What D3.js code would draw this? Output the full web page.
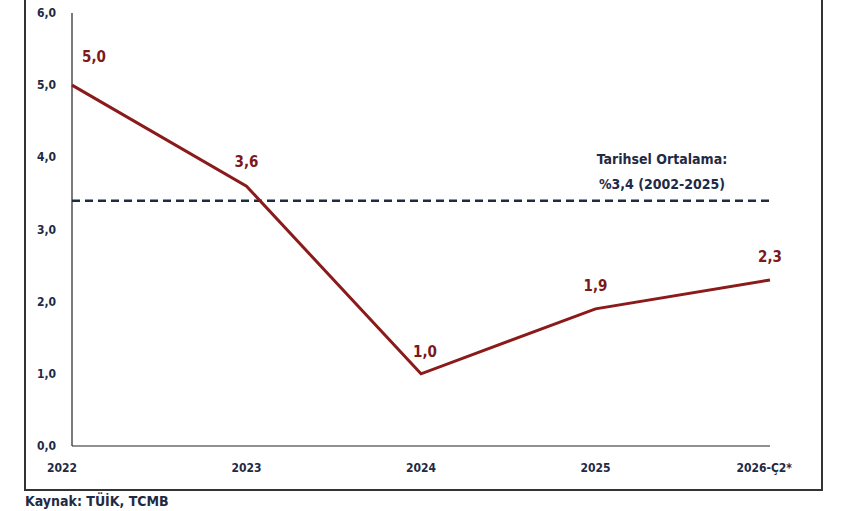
<!DOCTYPE html>
<html><head><meta charset="utf-8">
<script src="https://cdn.jsdelivr.net/npm/d3@7"></script>
<style>body{margin:0;background:#fff}svg{display:block}text{font-family:"DejaVu Sans Condensed","DejaVu Sans",sans-serif;font-weight:bold}</style>
</head><body><svg id="c" width="856" height="511"></svg>
<script>
const categories = ["2022", "2023", "2024", "2025", "2026-Ç2*"];
const values = [5.0, 3.6, 1.0, 1.9, 2.3];
const historicalAvg = 3.4;
const yTicks = [0, 1, 2, 3, 4, 5, 6];

const svg = d3.select("#c");
const fmt = d => d3.format(".1f")(d).replace(".", ",");
let x = d3.scalePoint().domain(categories).range([72, 770]);
let y = d3.scaleLinear().domain([0, 6]).range([446, 13]);

// frame
svg.append("path").attr("d", "M25,-2V490H822V-2").attr("fill", "none").attr("stroke", "#333").attr("stroke-width", 2);

svg.append("line").attr("x1", 72).attr("x2", 72).attr("y1", y(6)).attr("y2", y(0)).attr("stroke", "#222").attr("stroke-width", 1.2);
svg.append("line").attr("x1", 72).attr("x2", 770).attr("y1", y(0)).attr("y2", y(0)).attr("stroke", "#222").attr("stroke-width", 1.2);

svg.selectAll(".yt").data(yTicks).enter().append("text")
  .attr("x", 56).attr("y", d => y(d) + 4).attr("text-anchor", "end")
  .attr("font-size", 12).attr("fill", "#1f2a44").text(fmt);
svg.selectAll(".xt").data(categories).enter().append("text")
  .attr("x", (d, i) => i === 0 ? x(d) - 25 : (i === categories.length - 1 ? x(d) + 22 : x(d)))
  .attr("text-anchor", (d, i) => i === 0 ? "start" : (i === categories.length - 1 ? "end" : "middle"))
  .attr("y", 472).attr("font-size", 12).attr("fill", "#1f2a44").text(d => d);

// historical average
svg.append("line").attr("x1", 72).attr("x2", 770).attr("y1", y(historicalAvg)).attr("y2", y(historicalAvg))
  .attr("stroke", "#1f2a44").attr("stroke-width", 2.5).attr("stroke-dasharray", "8,5");
svg.append("text").attr("x", 662).attr("y", 164).attr("text-anchor", "middle").attr("font-size", 14).attr("fill", "#1f2a44").text("Tarihsel Ortalama:");
svg.append("text").attr("x", 662).attr("y", 189).attr("text-anchor", "middle").attr("font-size", 14).attr("fill", "#1f2a44").text("%3,4 (2002-2025)");

const line = d3.line().x((d, i) => x(categories[i])).y(d => y(d));
svg.append("path").datum(values).attr("d", line).attr("fill", "none").attr("stroke", "#8b1a1a").attr("stroke-width", 3);

const lblOff = [[22, -23], [0, -19], [4, -17], [0, -18], [0, -18]];
svg.selectAll(".vl").data(values).enter().append("text")
  .attr("x", (d, i) => x(categories[i]) + lblOff[i][0]).attr("y", (d, i) => y(d) + lblOff[i][1])
  .attr("text-anchor", "middle").attr("font-size", 15).attr("fill", "#7a1a1a").text(fmt);

svg.append("text").attr("x", 25).attr("y", 506).attr("font-size", 14).attr("fill", "#1f2a44").text("Kaynak: TÜİK, TCMB");
</script></body></html>
